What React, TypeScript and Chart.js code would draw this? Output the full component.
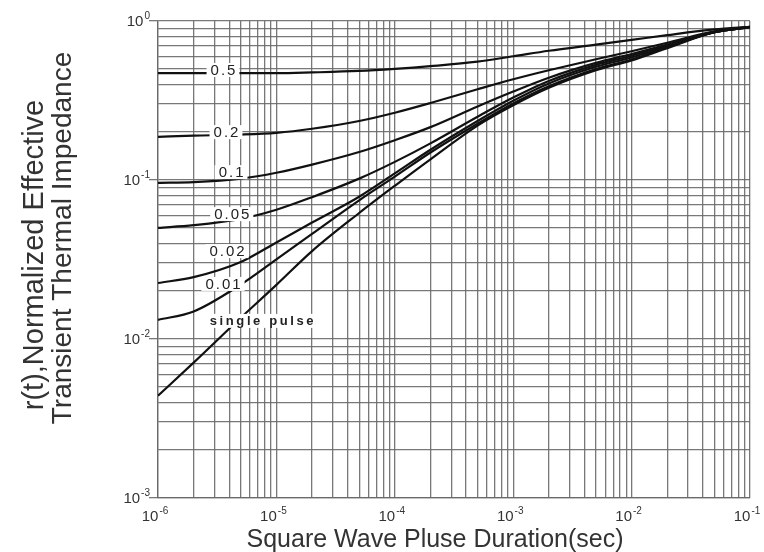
import React, { useEffect, useRef } from "react";
import { Chart, registerables } from "chart.js";

Chart.register(...registerables);

// ---- data ----
const pulseDurations = [1e-6, 2e-6, 5e-6, 1e-5, 2e-5, 5e-5, 1e-4, 2e-4, 5e-4, 1e-3, 2e-3, 5e-3, 1e-2, 2e-2, 5e-2, 1e-1];
const duty050 = [0.47, 0.47, 0.47, 0.47, 0.475, 0.485, 0.5, 0.52, 0.555, 0.6, 0.65, 0.71, 0.76, 0.815, 0.885, 0.92];
const duty020 = [0.187, 0.19, 0.193, 0.198, 0.21, 0.235, 0.265, 0.305, 0.372, 0.43, 0.49, 0.575, 0.645, 0.73, 0.86, 0.92];
const duty010 = [0.096, 0.097, 0.102, 0.111, 0.125, 0.15, 0.178, 0.215, 0.29, 0.36, 0.44, 0.545, 0.62, 0.71, 0.855, 0.918];
const duty005 = [0.05, 0.052, 0.057, 0.065, 0.078, 0.102, 0.13, 0.17, 0.25, 0.33, 0.42, 0.53, 0.605, 0.705, 0.852, 0.916];
const duty002 = [0.0225, 0.0245, 0.0305, 0.0405, 0.054, 0.0785, 0.11, 0.155, 0.235, 0.315, 0.405, 0.515, 0.59, 0.69, 0.85, 0.915];
const duty001 = [0.0132, 0.0149, 0.022, 0.0317, 0.0458, 0.0745, 0.105, 0.149, 0.226, 0.303, 0.389, 0.499, 0.573, 0.685, 0.85, 0.915];
const singlePulse = [0.0044, 0.0071, 0.0136, 0.0219, 0.0357, 0.062, 0.092, 0.135, 0.22, 0.295, 0.38, 0.49, 0.565, 0.675, 0.85, 0.915];

const seriesValues = [duty050, duty020, duty010, duty005, duty002, duty001, singlePulse];
const seriesNames = ["0.5", "0.2", "0.1", "0.05", "0.02", "0.01", "single pulse"];
// where each curve's inline label sits (data coordinates)
const labelAtX = [3.54e-6, 3.75e-6, 4.14e-6, 4.2e-6, 3.83e-6, 3.54e-6, 7.55e-6];
const labelAtY = [0.492, 0.2, 0.112, 0.061, 0.0357, 0.0222, 0.013];

const xDecadeExponents = [-6, -5, -4, -3, -2, -1];
const yDecadeExponents = [-3, -2, -1, 0];

const xTitle = "Square Wave Pluse Duration(sec)";
const yTitleLines = ["r(t),Normalized Effective", "Transient Thermal Impedance"];

const FONT = "'Liberation Sans', Arial, sans-serif";
const GRID = "rgba(105,105,105,0.9)";
const TEXT = "#333";

function logTicks(exps: number[]) {
  const out: { value: number }[] = [];
  for (let i = 0; i < exps.length - 1; i++) {
    for (let k = 1; k <= 9; k++) out.push({ value: k * Math.pow(10, exps[i]) });
  }
  out.push({ value: Math.pow(10, exps[exps.length - 1]) });
  return out;
}

function isDecade(v: number) {
  const l = Math.log10(v);
  return Math.abs(l - Math.round(l)) < 1e-9;
}

const overlayPlugin = {
  id: "overlay",
  afterDatasetsDraw(chart: any) {
    const ctx = chart.ctx;
    const xs = chart.scales.x;
    const ys = chart.scales.y;
    ctx.save();
    seriesNames.forEach((name, i) => {
      const px = xs.getPixelForValue(labelAtX[i]);
      const py = ys.getPixelForValue(labelAtY[i]);
      const single = name.length > 5;
      ctx.font = single ? `bold 13px ${FONT}` : `15px ${FONT}`;
      (ctx as any).letterSpacing = single ? "2.6px" : "2px";
      const w = ctx.measureText(name).width;
      ctx.fillStyle = "#fff";
      ctx.fillRect(px - w / 2 - 3, py - 7, w + 6, 14);
      ctx.fillStyle = "#222";
      ctx.textAlign = "center";
      ctx.textBaseline = "middle";
      ctx.fillText(name, px + 1, py + 1);
    });
    (ctx as any).letterSpacing = "0px";
    ctx.restore();
  },
  afterDraw(chart: any) {
    const ctx = chart.ctx;
    const xs = chart.scales.x;
    const ys = chart.scales.y;
    const area = chart.chartArea;
    ctx.save();
    ctx.fillStyle = TEXT;
    const baseFont = `15px ${FONT}`;
    const expFont = `10px ${FONT}`;
    const drawPow = (e: number, cx: number, cy: number, align: "right" | "center") => {
      ctx.font = baseFont;
      const bw = ctx.measureText("10").width;
      ctx.font = expFont;
      const es = String(e);
      const ew = ctx.measureText(es).width;
      const total = bw + ew + 1;
      const left = align === "right" ? cx - total : cx - total / 2;
      ctx.textAlign = "left";
      ctx.textBaseline = "middle";
      ctx.font = baseFont;
      ctx.fillText("10", left, cy);
      ctx.font = expFont;
      ctx.fillText(es, left + bw + 1, cy - 6);
    };
    yDecadeExponents.forEach((e) => {
      drawPow(e, area.left - 8, ys.getPixelForValue(Math.pow(10, e)) + 1, "right");
    });
    xDecadeExponents.forEach((e) => {
      drawPow(e, xs.getPixelForValue(Math.pow(10, e)) - 3, area.bottom + 19, "center");
    });

    // axis titles
    ctx.fillStyle = TEXT;
    ctx.font = `25px ${FONT}`;
    ctx.textAlign = "center";
    ctx.textBaseline = "alphabetic";
    ctx.fillText(xTitle, area.left + 277, area.bottom + 49);

    const ySizes = [29, 28];
    const yCenters = [area.top + 234, area.top + 217];
    const xBase = [43, 71];
    yTitleLines.forEach((line, i) => {
      ctx.save();
      ctx.font = `${ySizes[i]}px ${FONT}`;
      ctx.translate(xBase[i], yCenters[i]);
      ctx.rotate(-Math.PI / 2);
      ctx.fillText(line, 0, 0);
      ctx.restore();
    });
    ctx.restore();
  },
};

export default function App() {
  const ref = useRef<HTMLCanvasElement | null>(null);
  useEffect(() => {
    if (!ref.current) return;
    const datasets = seriesValues.map((vals, i) => ({
      label: seriesNames[i],
      data: pulseDurations.map((x, j) => ({ x, y: vals[j] })),
      borderColor: "#111",
      borderWidth: 2.2,
      pointRadius: 0,
      fill: false,
      cubicInterpolationMode: "monotone" as const,
    }));
    const chart = new Chart(ref.current, {
      type: "line",
      data: { datasets },
      plugins: [overlayPlugin],
      options: {
        animation: false,
        responsive: false,
        devicePixelRatio: 1,
        layout: { padding: { left: 0, right: 14, top: 21, bottom: 0 } },
        plugins: { legend: { display: false }, tooltip: { enabled: false }, title: { display: false } },
        scales: {
          x: {
            type: "logarithmic",
            min: 1e-6,
            max: 1e-1,
            afterBuildTicks: (s: any) => {
              s.ticks = logTicks(xDecadeExponents);
            },
            afterFit: (s: any) => {
              s.height = 54;
            },
            ticks: { display: false, autoSkip: false },
            grid: { color: GRID, lineWidth: 1.3, drawTicks: false },
            border: { display: true, color: GRID, width: 1.3 },
          },
          y: {
            type: "logarithmic",
            min: 1e-3,
            max: 1,
            afterBuildTicks: (s: any) => {
              s.ticks = logTicks(yDecadeExponents);
            },
            afterFit: (s: any) => {
              s.width = 158;
            },
            ticks: { display: false, autoSkip: false },
            grid: {
              color: GRID,
              lineWidth: 1.3,
              drawTicks: true,
              tickLength: 9,
              tickColor: (c: any) => (c.tick && isDecade(c.tick.value) ? GRID : "rgba(0,0,0,0)"),
            },
            border: { display: true, color: GRID, width: 1.3 },
          },
        },
      },
    });
    return () => chart.destroy();
  }, []);
  return (
    <div style={{ position: "fixed", left: 0, top: 0, width: 764, height: 552, background: "#fff" }}>
      <canvas ref={ref} width={764} height={552} style={{ display: "block" }} />
    </div>
  );
}
